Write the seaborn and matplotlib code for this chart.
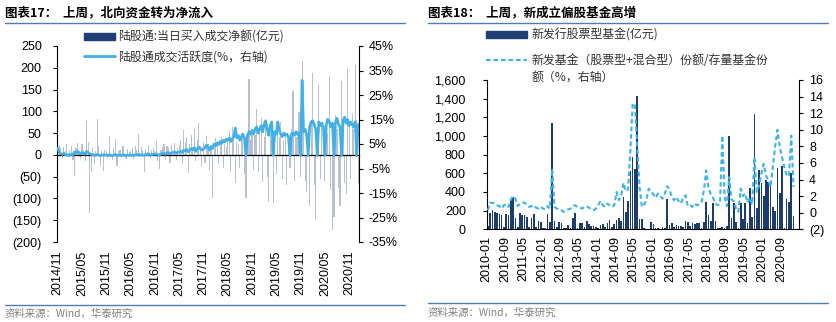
import numpy as np
import pandas as pd
import matplotlib
matplotlib.use("Agg")
import matplotlib.pyplot as plt
import seaborn as sns
from matplotlib.lines import Line2D
from matplotlib.patches import Rectangle

# ---------------- data: left panel (Northbound, ~semi-weekly samples) ----------------
north_net = [
    59, 22, 15, -8, 18, 10, 25, -5, 12, 20, -12, -48, 15, 28, 8, -10,
    25, 12, -15, 78, 30, -133, -40, 15, -20, 10, 82, 20, -25, 8, -37, 12,
    10, -8, 44, 5, -12, 15, 36, -25, 8, 12, -6, 20, 5, -10, 14, 6,
    8, 15, -10, 20, 12, 48, -5, 18, 10, -40, 14, 6, 22, -8, 12, 16,
    10, 32, -15, -33, 12, 18, 25, -10, 20, 15, -18, 22, 10, 28, -12, 16,
    22, 35, -20, 58, 30, 40, -42, 25, 45, 18, 60, -15, 35, 74, 20, -25,
    30, -18, 43, 25, -35, 20, -99, 15, 38, 28, -22, 35, 40, -30, 25, 18,
    35, 58, -40, 65, 45, -65, 30, 25, -30, 50, 40, -45, -99, 28, 175, 35,
    60, -35, 45, 105, -40, 55, 84, -62, 40, 70, -50, -109, 48, 35, -111, 50,
    -45, 62, 40, 76, -55, 35, 50, -70, 45, -30, 60, 147, -60, 40, 55, 99,
    -50, 216, 70, -60, -85, 55, -118, 80, 189, -70, -149, 65, 161, -55, 70, 45,
    -60, 85, 50, 181, -80, -172, -142, 92, 60, -75, -118, 170, 55, -65, -90, 197,
    70, -55, 95, 60, 206, 80, -65,
]
north_activity = [
    3.3, 1.5, 1.0, 0.8, 1.2, 0.6, 0.5, 0.7, 0.4, 0.9, 0.6, 1.8, 1.2, 2.0, 1.5, 1.0,
    1.5, 1.2, 0.8, 2.0, 1.5, 1.0, 0.8, 0.5, 0.6, 0.4, 0.8, 0.5, 0.3, 0.4, 0.6, 0.5,
    0.5, 0.4, 0.6, 0.3, 0.2, 0.5, 0.8, 0.2, 0.4, 0.5, 0.3, 0.6, 0.4, 0.3, 0.5, 0.4,
    0.4, 0.5, 0.3, 0.6, 0.5, 0.9, 0.4, 0.7, 0.5, 0.3, 0.8, 0.6, 0.9, 0.5, 0.7, 0.8,
    0.8, 1.0, 0.6, 0.5, 0.9, 1.1, 1.2, 0.8, 1.3, 1.5, 1.0, 1.4, 1.6, 1.8, 1.2, 1.6,
    1.8, 2.0, 1.5, 2.5, 2.2, 2.8, 1.8, 2.5, 3.2, 2.6, 3.5, 2.0, 3.0, 3.8, 3.0, 2.5,
    3.0, 3.5, 4.5, 3.8, 2.5, 4.0, 3.2, 5.0, 4.2, 5.5, 4.8, 6.0, 5.2, 6.5, 5.8, 7.0,
    6.5, 7.5, 6.0, 7.0, 8.0, 11.5, 7.5, 8.5, 6.5, 8.0, 9.0, 7.5, 0.3, 8.5, 10.0, 9.0,
    10.5, 9.0, 11.0, 12.0, 9.5, 11.0, 12.5, 10.0, 13.0, 14.5, 11.0, 8.5, 12.5, 14.0, 0.3, 10.0,
    9.0, 14.0, 10.5, 9.0, 8.0, 9.5, 8.5, 9.0, 8.0, 0.3, 9.0, 9.5, 8.5, 10.0, 9.0, 9.5,
    0.3, 31.0, 10.0, 11.0, 9.0, 0.3, 12.0, 14.0, 14.5, 13.0, 11.0, 0.3, 14.0, 12.5, 13.5, 12.0,
    0.3, 13.0, 15.0, 14.0, 12.0, 13.5, 0.3, 14.0, 15.5, 13.0, 12.0, 0.3, 14.5, 16.0, 13.5, 15.0,
    12.5, 14.0, 13.0, 12.0, 14.0, 0.3, 13.0,
]
left_xlabels = ["2014/11", "2015/05", "2015/11", "2016/05", "2016/11", "2017/05", "2017/11",
                "2018/05", "2018/11", "2019/05", "2019/11", "2020/05", "2020/11"]
left_yticks = [-200, -150, -100, -50, 0, 50, 100, 150, 200, 250]
left_ylabels = ["(200)", "(150)", "(100)", "(50)", "0", "50", "100", "150", "200", "250"]
left_y2ticks = [-35, -25, -15, -5, 5, 15, 25, 35, 45]
left_y2labels = ["-35%", "-25%", "-15%", "-5%", "5%", "15%", "25%", "35%", "45%"]

# ---------------- data: right panel (monthly, 2010-01 .. 2021-02) ----------------
fund_new = [
    35, 175, 210, 190, 170, 160, 155, 20, 165, 150,
    310, 350, 125, 20, 175, 155, 154, 128, 20, 118,
    164, 28, 89, 82, 18, 10, 164, 82, 1135, 89,
    28, 82, 64, 10, 18, 46, 15, 118, 171, 10,
    71, 64, 28, 93, 57, 40, 35, 30, 10, 46,
    54, 28, 64, 100, 20, 60, 100, 125, 93, 343,
    190, 300, 620, 770, 650, 1425, 107, 110, 10, 5,
    8, 75, 60, 10, 15, 8, 20, 10, 330, 50,
    70, 25, 45, 40, 35, 20, 90, 75, 40, 70,
    60, 70, 70, 10, 80, 296, 154, 89, 286, 93,
    15, 12, 20, 10, 36, 1000, 118, 279, 75, 10,
    286, 107, 286, 64, 439, 136, 1232, 225, 636, 493,
    357, 529, 511, 493, 243, 196, 661, 393, 682, 15,
    321, 296, 607, 143,
]
fund_ratio = [
    0.3, 1.2, 1.2, 1.1, 0.9, 0.8, 0.5, 0.9, 1.0, 0.7,
    1.6, 2.0, 1.7, 0.8, 1.1, 1.2, 1.2, 1.0, 0.7, 0.8,
    0.9, 0.6, 0.5, 0.7, 0.5, 0.4, 0.8, 0.5, 5.3, 0.7,
    0.5, 0.4, 0.3, 0.1, 0.2, 0.4, 0.5, 0.8, 0.9, 0.7,
    0.6, 0.5, 0.7, 0.8, 0.6, 0.4, 0.3, 0.5, 0.9, 1.4,
    0.9, 0.7, 1.1, 0.9, 0.7, 0.9, 2.5, 1.5, 2.0, 3.6,
    2.6, 2.8, 7.5, 13.2, 12.9, 8.0, 3.1, 0.7, 1.0, 1.6,
    2.9, 2.6, 2.2, 1.8, 2.3, 2.0, 1.7, 2.3, 3.2, 2.8,
    1.9, 1.5, 1.9, 1.4, 1.1, 1.8, 2.1, 0.8, 0.9, 0.7,
    1.1, 0.9, 1.0, 1.3, 2.7, 5.1, 3.0, 2.2, 1.8, 1.1,
    0.9, 1.1, 9.3, 1.9, 0.8, 4.3, 1.6, 1.4, 0.5, 0.1,
    2.9, 2.0, 2.3, 1.2, 1.8, 1.0, 6.7, 2.5, 3.3, 4.7,
    5.9, 4.5, 3.9, 3.1, 5.5, 8.0, 10.0, 7.9, 6.7, 5.5,
    4.5, 4.4, 9.3, 3.1,
]
right_xlabels = ["2010-01", "2010-09", "2011-05", "2012-01", "2012-09", "2013-05", "2014-01",
                 "2014-09", "2015-05", "2016-01", "2016-09", "2017-05", "2018-01", "2018-09",
                 "2019-05", "2020-01", "2020-09"]
right_yticks = [0, 200, 400, 600, 800, 1000, 1200, 1400, 1600]
right_ylabels = ["0", "200", "400", "600", "800", "1,000", "1,200", "1,400", "1,600"]
right_y2ticks = [-2, 0, 2, 4, 6, 8, 10, 12, 14, 16]
right_y2labels = ["(2)", "0", "2", "4", "6", "8", "10", "12", "14", "16"]

assert len(north_net) == len(north_activity)
assert len(fund_new) == len(fund_ratio)

# ---------------- style ----------------
sns.set_theme(style="white")
plt.rcParams["font.family"] = ["Liberation Sans", "Noto Sans CJK SC", "DejaVu Sans"]
CJK = ["Noto Sans CJK SC", "Liberation Sans"]

W, H = 836, 322
fig = plt.figure(figsize=(W / 100, H / 100), dpi=100)


def fx(px):
    return px / W


def fy(py):
    return 1 - py / H


NAVY = "#1F3F73"
LBLUE = "#41B0E6"
TICK_FS = 9

# ---------------- left panel ----------------
ax1 = fig.add_axes([fx(57), fy(242), fx(359) - fx(57), fy(46) - fy(242)])
n1 = len(north_net)
df1 = pd.DataFrame({"idx": np.arange(n1), "net": north_net, "act": north_activity})
ax1.bar(df1["idx"], df1["net"], width=0.75, color=NAVY, alpha=0.32, linewidth=0)
ax1.set_xlim(-0.5, n1 - 0.5)
ax1.set_ylim(-200, 250)
ax1.set_yticks(left_yticks)
ax1.set_yticklabels(left_ylabels)
ax1.spines["top"].set_visible(False)
ax1.spines["bottom"].set_position(("data", 0))
ax1.spines["bottom"].set_color("black")
ax1.spines["bottom"].set_linewidth(0.9)
ax1.spines["left"].set_color("black")
ax1.spines["left"].set_linewidth(0.8)
ax1.spines["right"].set_visible(False)
ax1.set_xticks(np.arange(0, n1, 16)[:len(left_xlabels)])
ax1.set_xticklabels(left_xlabels, rotation=90)
ax1.tick_params(axis="x", direction="out", length=3, width=0.8, pad=66, labelsize=TICK_FS, colors="black")
ax1.tick_params(axis="y", direction="out", length=3, width=0.8, pad=8, labelsize=TICK_FS, colors="black")
ax1.set_xlabel("")
ax1.set_ylabel("")

ax1b = ax1.twinx()
sns.lineplot(data=df1, x="idx", y="act", ax=ax1b, color=LBLUE, linewidth=1.9)
ax1b.set_ylim(-35, 45)
ax1b.set_yticks(left_y2ticks)
ax1b.set_yticklabels(left_y2labels)
ax1b.set_xlim(-0.5, n1 - 0.5)
for s in ["top", "bottom", "left"]:
    ax1b.spines[s].set_visible(False)
ax1b.spines["right"].set_color("black")
ax1b.spines["right"].set_linewidth(0.8)
ax1b.tick_params(axis="y", direction="out", length=3, width=0.8, pad=4, labelsize=TICK_FS, colors="black")
ax1b.set_ylabel("")
ax1b.set_xlabel("")

# ---------------- right panel ----------------
ax2 = fig.add_axes([fx(486.7), fy(229.3), fx(799.3) - fx(486.7), fy(80) - fy(229.3)])
n2 = len(fund_new)
df2 = pd.DataFrame({"idx": np.arange(n2), "new": fund_new, "ratio": fund_ratio})
sns.barplot(data=df2, x="idx", y="new", ax=ax2, color="#1D3C6E", saturation=1, width=0.72,
            linewidth=0, native_scale=True)
ax2.set_xlim(-0.5, 135.5)
ax2.set_ylim(0, 1600)
ax2.set_yticks(right_yticks)
ax2.set_yticklabels(right_ylabels)
ax2.set_xticks(np.arange(0, n2, 8)[:len(right_xlabels)] - 0.5)
ax2.set_xticklabels(right_xlabels, rotation=90)
ax2.spines["top"].set_visible(False)
ax2.spines["right"].set_visible(False)
for s in ["left", "bottom"]:
    ax2.spines[s].set_color("black")
    ax2.spines[s].set_linewidth(0.8)
ax2.tick_params(axis="x", direction="out", length=3, width=0.8, pad=2, labelsize=TICK_FS, colors="black")
ax2.tick_params(axis="y", direction="out", length=3, width=0.8, pad=12, labelsize=TICK_FS, colors="black")
ax2.set_xlabel("")
ax2.set_ylabel("")

ax2b = ax2.twinx()
sns.lineplot(data=df2, x="idx", y="ratio", ax=ax2b, color="#3DB3EA", linewidth=1.5)
for ln in ax2b.get_lines():
    ln.set_dashes([2.2, 1.4])
ax2b.set_ylim(-2, 16)
ax2b.set_yticks(right_y2ticks)
ax2b.set_yticklabels(right_y2labels)
ax2b.set_xlim(-0.5, 135.5)
for s in ["top", "bottom", "left"]:
    ax2b.spines[s].set_visible(False)
ax2b.spines["right"].set_color("black")
ax2b.spines["right"].set_linewidth(0.8)
ax2b.tick_params(axis="y", direction="out", length=3, width=0.8, pad=4, labelsize=TICK_FS, colors="black")
ax2b.set_ylabel("")
ax2b.set_xlabel("")

# ---------------- titles, rules, legends, sources ----------------
TITLE_C = "#4F7DB8"
fig.text(fx(5), fy(13), "图表17：  上周，北向资金转为净流入", fontsize=9, fontweight="bold",
         family=CJK, va="center", ha="left", color="black")
fig.text(fx(428), fy(13), "图表18：  上周，新成立偏股基金高增", fontsize=9, fontweight="bold",
         family=CJK, va="center", ha="left", color="black")
fig.add_artist(Line2D([fx(5), fx(405)], [fy(22.5), fy(22.5)], color=TITLE_C, lw=1))
fig.add_artist(Line2D([fx(428), fx(828)], [fy(22.5), fy(22.5)], color=TITLE_C, lw=1))

# left legend
fig.add_artist(Rectangle((fx(84), fy(39.5)), fx(115) - fx(84), fy(33) - fy(39.5), color=NAVY,
                         transform=fig.transFigure))
fig.text(fx(118), fy(36.5), "陆股通:当日买入成交净额(亿元)", fontsize=8.6, family=CJK, va="center",
         color="#333333")
fig.add_artist(Line2D([fx(84), fx(115)], [fy(56), fy(56)], color=LBLUE, lw=2))
fig.text(fx(118), fy(57), "陆股通成交活跃度(%，右轴)", fontsize=8.6, family=CJK, va="center",
         color="#333333")

# right legend
fig.add_artist(Rectangle((fx(486), fy(37.5)), fx(527) - fx(486), fy(31) - fy(37.5), color=NAVY,
                         transform=fig.transFigure))
fig.text(fx(532), fy(34.5), "新发行股票型基金(亿元)", fontsize=8.6, family=CJK, va="center",
         color="#333333")
fig.add_artist(Line2D([fx(486), fx(527)], [fy(60), fy(60)], color="#3DB3EA", lw=1.5,
                      dashes=[2.2, 1.4]))
fig.text(fx(532), fy(60), "新发基金（股票型+混合型）份额/存量基金份", fontsize=8.6, family=CJK,
         va="center", color="#333333")
fig.text(fx(532), fy(78), "额（%，右轴）", fontsize=8.6, family=CJK, va="center", color="#333333")

# bottom rules and sources
fig.add_artist(Line2D([fx(5), fx(405)], [fy(305), fy(305)], color=TITLE_C, lw=1))
fig.add_artist(Line2D([fx(428), fx(828)], [fy(303), fy(303)], color=TITLE_C, lw=1))
fig.text(fx(5), fy(314), "资料来源：Wind，华泰研究", fontsize=7.5, family=CJK, va="center",
         color="#808080")
fig.text(fx(428), fy(313), "资料来源：Wind，华泰研究", fontsize=7.5, family=CJK, va="center",
         color="#808080")

fig.savefig("out.png", dpi=100)
